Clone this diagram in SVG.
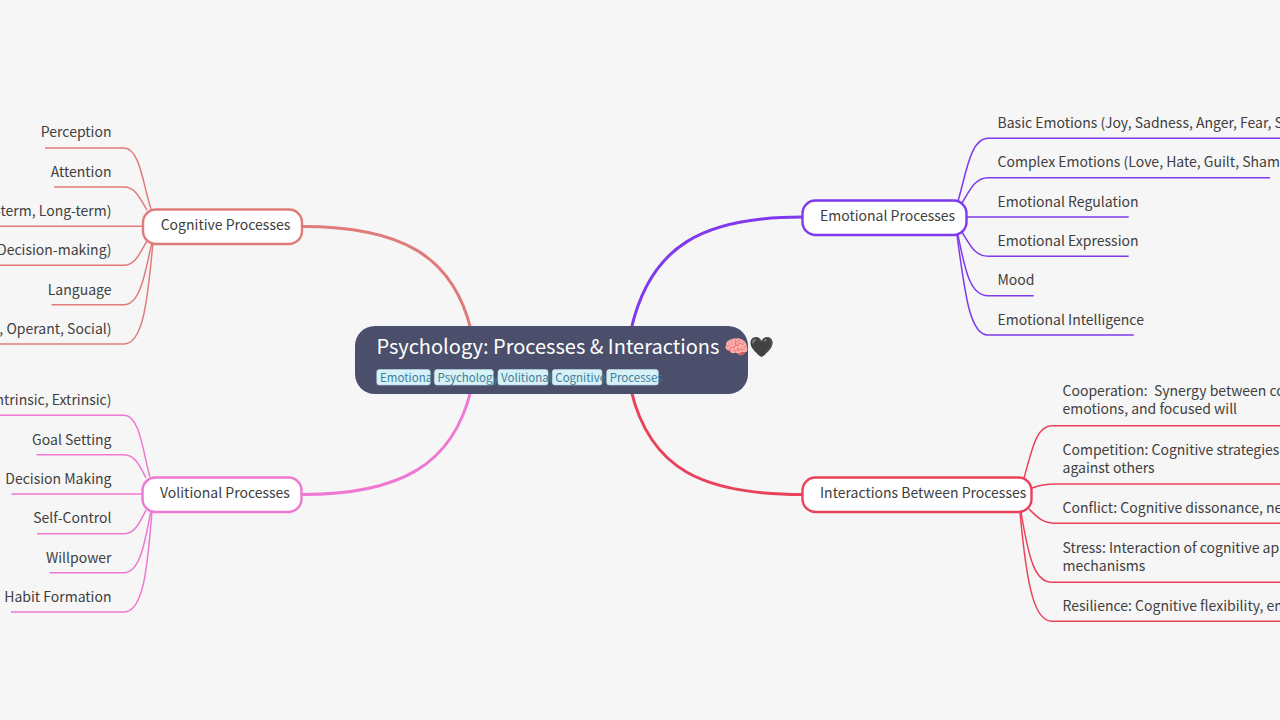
<svg xmlns="http://www.w3.org/2000/svg" width="1280" height="720" viewBox="0 0 1280 720">
<style>
text{font-family:"Noto Sans CJK SC","Noto Sans",sans-serif;fill:#404040;font-size:14px;white-space:pre}
.e{text-anchor:end}
.b{fill:#fff;stroke-width:2.4}
path{fill:none}
.l{stroke-width:1.5}
.m{stroke-width:3}
.c{stroke:#e07b7b}.v{stroke:#ee78d2}.p{stroke:#7f3aed}.r{stroke:#e9425a}
.t{fill:#d6f1f8;stroke:#b5dce8;stroke-width:.6}
.tt{font-size:11.5px;fill:#3f7d96}
</style>
<rect width="1280" height="720" fill="#f6f6f6"/>
<g id="connectors">
<path class="m c" d="M302 226.5C400 226.5 453 255 471 330"/>
<path class="m v" d="M302 494.5C400 494.5 453 465 471 390"/>
<path class="m p" d="M802 217C704 217 650 245 631 330"/>
<path class="m r" d="M802 494.5C704 494.5 650 470 631 390"/>
<path class="l c" d="M45 148H124C140 148 143 185 151 209"/>
<path class="l c" d="M54 187H124C135 187 140 198 147 210"/>
<path class="l c" d="M0 226.3H143"/>
<path class="l c" d="M0 265.3H124C135 265.3 140 253 147 241"/>
<path class="l c" d="M51.500 304.700H124C142 304.700 146 265 152 243"/>
<path class="l c" d="M0 344H124C145 344 148 290 153 243"/>
<path class="l v" d="M0 415.300H124C140 415.300 143 453 150 477"/>
<path class="l v" d="M36.500 454.700H124C135 454.700 140 466 146 478"/>
<path class="l v" d="M11.500 494H142"/>
<path class="l v" d="M37 533.700H124C135 533.700 140 522 146 510"/>
<path class="l v" d="M49.500 572.700H124C142 572.700 146 533 151 511"/>
<path class="l v" d="M11 612H124C145 612 148 558 152 511"/>
<path class="l p" d="M958 201C966 175 970 138.300 988 138.300H1280"/>
<path class="l p" d="M962 203C970 190 975 177.700 988 177.700H1270"/>
<path class="l p" d="M966 217H1128.700"/>
<path class="l p" d="M962 232C970 245 975 256.300 988 256.300H1128.700"/>
<path class="l p" d="M958 235C965 270 970 295.700 988 295.700H1033.700"/>
<path class="l p" d="M957 235C965 295 970 335 988 335H1133.700"/>
<path class="l r" d="M1024 478C1032 450 1036 425.700 1052 425.700H1280"/>
<path class="l r" d="M1032 488C1040 485 1045 484 1055 484H1280"/>
<path class="l r" d="M1029 509C1038 518 1043 523.300 1055 523.300H1280"/>
<path class="l r" d="M1021 512C1029 560 1035 582.300 1052 582.300H1280"/>
<path class="l r" d="M1020 512C1027 590 1035 621.300 1052 621.300H1280"/>
</g>
<g id="root">
<rect x="355" y="326" width="393" height="68" rx="20" fill="#4c4f6b"/>
<text x="376.500" y="354" style="font-size:20px;fill:#fff">Psychology: Processes &amp; Interactions 🧠🖤</text>
<rect class="t" x="376.800" y="369.500" width="53.500" height="15.500" rx="2.500"/><text class="tt" x="380" y="382">Emotional</text>
<rect class="t" x="434.500" y="369.500" width="58.800" height="15.500" rx="2.500"/><text class="tt" x="437.500" y="382">Psychology</text>
<rect class="t" x="498" y="369.500" width="50" height="15.500" rx="2.500"/><text class="tt" x="501" y="382">Volitional</text>
<rect class="t" x="552.300" y="369.500" width="49.700" height="15.500" rx="2.500"/><text class="tt" x="555.300" y="382">Cognitive</text>
<rect class="t" x="606.700" y="369.500" width="51.600" height="15.500" rx="2.500"/><text class="tt" x="609.700" y="382">Processes</text>
</g>
<g id="cognitive">
<rect class="b c" x="143" y="209.500" width="159" height="34.500" rx="13"/>
<text x="160.700" y="230">Cognitive Processes</text>
<text class="e" x="111.500" y="137">Perception</text>
<text class="e" x="111.500" y="176.500">Attention</text>
<text class="e" x="111.500" y="216">rt-term, Long-term)</text>
<text class="e" x="111.500" y="255">, Decision-making)</text>
<text class="e" x="111.500" y="294.500">Language</text>
<text class="e" x="111.500" y="334">al, Operant, Social)</text>
</g>
<g id="volitional">
<rect class="b v" x="142.500" y="477.500" width="159" height="34.500" rx="13"/>
<text x="160" y="498">Volitional Processes</text>
<text class="e" x="111.500" y="405">(Intrinsic, Extrinsic)</text>
<text class="e" x="111.500" y="444.500">Goal Setting</text>
<text class="e" x="111.500" y="484">Decision Making</text>
<text class="e" x="111.500" y="523">Self-Control</text>
<text class="e" x="111.500" y="562.500">Willpower</text>
<text class="e" x="111.500" y="602">Habit Formation</text>
</g>
<g id="emotional">
<rect class="b p" x="802.500" y="200.500" width="164" height="34.500" rx="13"/>
<text x="820" y="221">Emotional Processes</text>
<text x="997.500" y="128">Basic Emotions (Joy, Sadness, Anger, Fear, Surp</text>
<text x="997.500" y="167">Complex Emotions (Love, Hate, Guilt, Shame)</text>
<text x="997.500" y="206.500">Emotional Regulation</text>
<text x="997.500" y="246">Emotional Expression</text>
<text x="997.500" y="285">Mood</text>
<text x="997.500" y="324.500">Emotional Intelligence</text>
</g>
<g id="interactions">
<rect class="b r" x="802.500" y="477.500" width="229" height="34.500" rx="13"/>
<text x="820" y="498">Interactions Between Processes</text>
<text x="1062.500" y="396">Cooperation:  Synergy between cogn</text>
<text x="1062.500" y="414">emotions, and focused will</text>
<text x="1062.500" y="454.500">Competition: Cognitive strategies, en</text>
<text x="1062.500" y="473">against others</text>
<text x="1062.500" y="513">Conflict: Cognitive dissonance, negat</text>
<text x="1062.500" y="552.500">Stress: Interaction of cognitive appra</text>
<text x="1062.500" y="571">mechanisms</text>
<text x="1062.500" y="611">Resilience: Cognitive flexibility, emot</text>
</g>
</svg>
